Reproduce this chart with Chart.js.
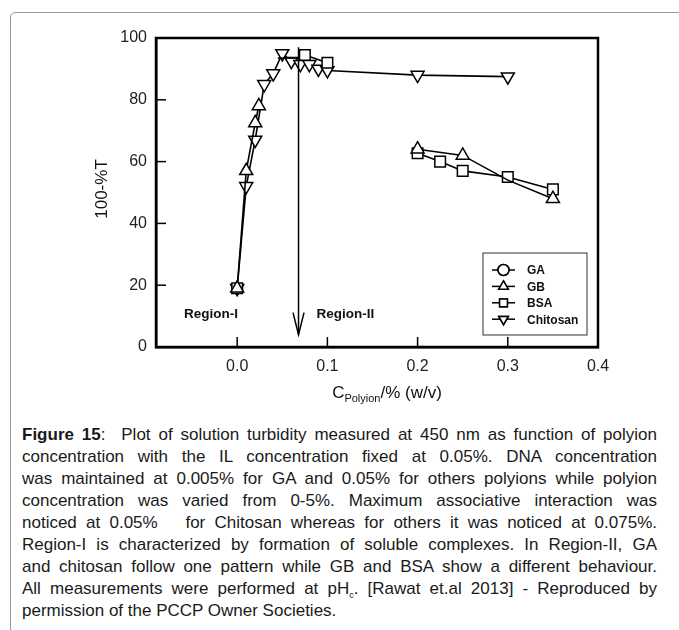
<!DOCTYPE html>
<html>
<head>
<meta charset="utf-8">
<script src="https://cdn.jsdelivr.net/npm/chart.js@4"></script>
<style>
  body { margin: 0; background: #fff; font-family: "Liberation Sans", Arial, sans-serif; }
  #frame { position: absolute; left: 10px; top: 12px; width: 720px; height: 700px; border: 1px solid #9a9a9a; border-radius: 5px; }
  #wrap { position: absolute; left: 0; top: 0; width: 679px; height: 410px; }
  #caption { position: absolute; left: 22px; top: 424px; width: 635px; font-size: 17px; line-height: 22px; color: #1a1a1a; }
  #caption .ln { text-align: justify; text-align-last: justify; height: 22px; overflow: visible; }
  #caption sub { font-size: 9px; line-height: 0; }
</style>
</head>
<body>
<div id="frame"></div>
<div id="wrap"><canvas id="myChart"></canvas></div>
<div id="caption">
<div class="ln"><b>Figure 15</b>:&nbsp; Plot of solution turbidity measured at 450 nm as function of polyion</div>
<div class="ln">concentration with the IL concentration fixed at 0.05%. DNA concentration</div>
<div class="ln">was maintained at 0.005% for GA and 0.05% for others polyions while polyion</div>
<div class="ln">concentration was varied from 0-5%. Maximum associative interaction was</div>
<div class="ln">noticed at 0.05%&nbsp;&nbsp; for Chitosan whereas for others it was noticed at 0.075%.</div>
<div class="ln">Region-I is characterized by formation of soluble complexes. In Region-II, GA</div>
<div class="ln">and chitosan follow one pattern while GB and BSA show a different behaviour.</div>
<div class="ln">All measurements were performed at pH<sub>c</sub>. [Rawat et.al 2013] - Reproduced by</div>
<div>permission of the PCCP Owner Societies.</div>
</div>
<script>
// valores (null = tramo sin linea)
const gaX = [0.045, 0.068];
const gaY = [93.5, 93.5];
const gbX = [0, 0.01, 0.02, 0.024, null, 0.2, 0.25, 0.3, 0.35];
const gbY = [19, 57, 72.5, 78, null, 64, 62, 54, 48];
const bsaX = [0, null, 0.075, 0.1, null, 0.2, 0.225, 0.25, 0.3, 0.35];
const bsaY = [19, null, 94.5, 92, null, 62.7, 60, 57, 55, 51];
const chitosanX = [0, 0.01, 0.02, 0.03, 0.04, 0.05, 0.06, 0.07, 0.08, 0.09, 0.1, 0.2, 0.3];
const chitosanY = [19, 52, 67, 85, 88.5, 95, 92.5, 91.5, 91.5, 90, 89.5, 88, 87.5];

const xTicks = [0, 0.1, 0.2, 0.3, 0.4];
const yTicks = [0, 20, 40, 60, 80, 100];
const seriesNames = ['GA', 'GB', 'BSA', 'Chitosan'];

const FONT = '"Liberation Sans", Arial, sans-serif';

function toPoints(xs, ys) {
    return xs.map((x, i) => ({ x: x === null ? (xs[i - 1] + 0.001) : x, y: ys[i] }));
}

function makeSet(label, xs, ys, style, rot, radius) {
    return {
        label: label,
        data: toPoints(xs, ys),
        borderColor: '#000',
        borderWidth: 1.6,
        pointStyle: style,
        rotation: rot,
        pointRadius: radius,
        pointBorderWidth: 1.5,
        pointBackgroundColor: '#fff',
        pointBorderColor: '#000',
        spanGaps: false,
        showLine: true
    };
}

// ticks hacia adentro, marco, flecha, etiquetas y leyenda
const extras = {
    id: 'extras',
    afterDraw(chart) {
        const c = chart.ctx;
        const a = chart.chartArea;
        const xs = chart.scales.x;
        const ys = chart.scales.y;
        c.save();
        c.strokeStyle = '#000';
        c.lineWidth = 2.5;
        c.strokeRect(a.left, a.top, a.right - a.left, a.bottom - a.top);

        c.lineWidth = 1.5;
        xTicks.forEach(v => {
            const px = xs.getPixelForValue(v);
            c.beginPath(); c.moveTo(px, a.bottom); c.lineTo(px, a.bottom - 10); c.stroke();
        });
        yTicks.forEach(v => {
            const py = ys.getPixelForValue(v);
            c.beginPath(); c.moveTo(a.left, py); c.lineTo(a.left + 10, py); c.stroke();
        });

        // flecha vertical
        const ax = xs.getPixelForValue(0.068);
        const ay1 = ys.getPixelForValue(97);
        const ay2 = ys.getPixelForValue(4);
        c.lineWidth = 1.5;
        c.beginPath(); c.moveTo(ax, ay1); c.lineTo(ax, ay2); c.stroke();
        c.beginPath(); c.moveTo(ax - 5.5, ay2 - 22); c.lineTo(ax, ay2); c.lineTo(ax + 5.5, ay2 - 22); c.stroke();

        // regiones
        c.fillStyle = '#111';
        c.font = 'bold 13.5px ' + FONT;
        c.textBaseline = 'middle';
        c.textAlign = 'center';
        c.fillText('Region-I', xs.getPixelForValue(-0.029), ys.getPixelForValue(10.5));
        c.textAlign = 'left';
        c.fillText('Region-II', xs.getPixelForValue(0.088), ys.getPixelForValue(10.5));

        // titulo eje y
        c.save();
        c.translate(102, 189);
        c.rotate(-Math.PI / 2);
        c.textAlign = 'center';
        c.font = '17px ' + FONT;
        c.fillText('100-%T', 0, 0);
        c.restore();

        // titulo eje x con subindice
        c.font = '17px ' + FONT;
        c.textBaseline = 'alphabetic';
        const w1 = c.measureText('C').width;
        c.font = '11px ' + FONT;
        const w2 = c.measureText('Polyion').width;
        c.font = '17px ' + FONT;
        const w3 = c.measureText('/% (w/v)').width;
        let tx = 387 - (w1 + w2 + w3) / 2;
        const ty = 398;
        c.textAlign = 'left';
        c.fillText('C', tx, ty); tx += w1;
        c.font = '11px ' + FONT;
        c.fillText('Polyion', tx, ty + 4); tx += w2;
        c.font = '17px ' + FONT;
        c.fillText('/% (w/v)', tx, ty);

        // leyenda
        const lx = 483, ly = 253, lw = 104, lh = 82;
        c.strokeStyle = '#333';
        c.lineWidth = 1;
        c.strokeRect(lx, ly, lw, lh);
        c.font = 'bold 12px ' + FONT;
        c.textBaseline = 'middle';
        chart.data.datasets.forEach((ds, i) => {
            const yy = 270 + i * 16.4;
            c.strokeStyle = '#000';
            c.lineWidth = 1.5;
            c.beginPath(); c.moveTo(492, yy); c.lineTo(515, yy); c.stroke();
            Chart.helpers.drawPoint(c, {
                pointStyle: ds.pointStyle, rotation: ds.rotation, radius: 5.5, borderWidth: 1.3
            }, 503.5, yy);
            c.fillStyle = '#fff';
            c.fill();
            c.stroke();
            c.fillStyle = '#111';
            c.fillText(seriesNames[i], 527, yy + 1);
        });
        c.restore();
    }
};

const ctx = document.getElementById('myChart').getContext('2d');
const gbSet = makeSet('GB', gbX, gbY, 'triangle', 0, 7.5);
// el triangulo en 0.3 queda tapado por el cuadrado de BSA
gbSet.pointRadius = gbX.map(x => (x === 0.3 ? 0 : 7.5));

const myChart = new Chart(ctx, {
    type: 'scatter',
    data: {
        datasets: [
            Object.assign(makeSet('GA', gaX, gaY, 'circle', 0, 0), { pointHoverRadius: 0 }),
            gbSet,
            makeSet('BSA', bsaX, bsaY, 'rect', 0, 7.5),
            makeSet('Chitosan', chitosanX, chitosanY, 'triangle', 180, 7.5)
        ]
    },
    options: {
        responsive: true,
        maintainAspectRatio: false,
        animation: false,
        layout: { padding: { top: 38, right: 81, left: 0, bottom: 0 } },
        plugins: {
            legend: { display: false },
            tooltip: { enabled: false }
        },
        scales: {
            x: {
                type: 'linear',
                min: -0.09,
                max: 0.4,
                grid: { display: false, drawTicks: false },
                border: { display: true, color: '#000', width: 2.5 },
                afterBuildTicks: s => { s.ticks = xTicks.map(v => ({ value: v })); },
                afterFit: s => { s.height = 63; },
                ticks: {
                    padding: 10,
                    color: '#222',
                    font: { family: FONT, size: 16 },
                    callback: v => v.toFixed(1)
                }
            },
            y: {
                type: 'linear',
                min: 0,
                max: 100,
                grid: { display: false, drawTicks: false },
                border: { display: true, color: '#000', width: 2.5 },
                afterBuildTicks: s => { s.ticks = yTicks.map(v => ({ value: v })); },
                afterFit: s => { s.width = 156; },
                ticks: {
                    padding: 9,
                    color: '#222',
                    font: { family: FONT, size: 16 }
                }
            }
        }
    },
    plugins: [extras]
});
</script>
</body>
</html>
